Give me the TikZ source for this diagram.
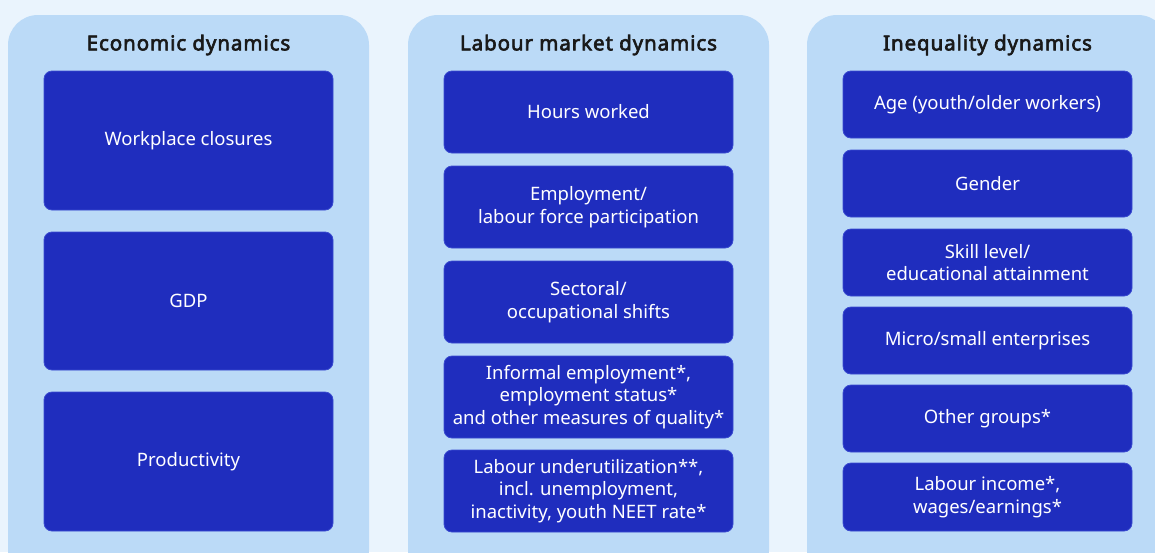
\documentclass[tikz,border=0pt]{standalone}
\usepackage{fontspec}
\setmainfont{Noto Sans}
\newfontfamily\titlefont{Noto Sans}[FakeBold=3,LetterSpace=4.5]
\usetikzlibrary{positioning}

\definecolor{pagebg}{HTML}{EAF4FD}
\definecolor{panelbg}{HTML}{BBDAF7}
\definecolor{boxbg}{HTML}{1F2DBE}
\definecolor{boxline}{HTML}{3A4BD0}

\tikzset{
  panel/.style={fill=panelbg, rounded corners=30pt},
  coltitle/.style={font=\titlefont\fontsize{20.5}{24}\selectfont, text=black!90},
  item/.style={fill=boxbg, draw=boxline, line width=0.8pt, rounded corners=8pt,
    text=white, align=center, minimum width=289pt, inner sep=0pt, outer sep=0pt,
    font=\fontsize{18.5}{22.5}\selectfont},
}

\begin{document}
\begin{tikzpicture}[x=1pt,y=-1pt]
	\useasboundingbox[fill=pagebg] (0,0) rectangle (1155,552);
	\begin{scope}
	  \clip (0,0) rectangle (1155,552);
	  \foreach \px in {8,408,807}
	    \fill[panel] (\px,15) rectangle ++(361,565);
	\end{scope}

	% economic dynamics
	\node[coltitle] (econ_title) at (188.5,45) {Economic dynamics};
	\node[item, minimum height=139pt, anchor=north] (econ_closures) at (188.5,71) {Workplace closures};
	\node[item, minimum height=138pt, below=22pt of econ_closures] (econ_gdp) {GDP};
	\node[item, minimum height=139pt, below=22pt of econ_gdp] (econ_prod) {Productivity};

	% labour market dynamics
	\node[coltitle] (lab_title) at (588.5,45) {Labour market dynamics};
	\node[item, minimum height=82pt, anchor=north] (lab_hours) at (588.5,71) {Hours worked};
	\node[item, minimum height=82pt, below=13pt of lab_hours] (lab_emp) {Employment/\\labour force participation};
	\node[item, minimum height=82pt, below=13pt of lab_emp] (lab_shifts) {Sectoral/\\occupational shifts};
	\node[item, minimum height=82pt, below=13pt of lab_shifts] (lab_informal) {Informal employment*,\\employment status*\\and other measures of quality*};
	\node[item, minimum height=82pt, below=12pt of lab_informal] (lab_under) {Labour underutilization**,\\incl. unemployment,\\inactivity, youth NEET rate*};

	% inequality dynamics
	\node[coltitle] (ineq_title) at (987.5,45) {Inequality dynamics};
	\node[item, minimum height=67pt, anchor=north] (ineq_age) at (987.5,71) {Age (youth/older workers)};
	\node[item, minimum height=67pt, below=12pt of ineq_age] (ineq_gender) {Gender};
	\node[item, minimum height=67pt, below=12pt of ineq_gender] (ineq_skill) {Skill level/\\educational attainment};
	\node[item, minimum height=67pt, below=11pt of ineq_skill] (ineq_micro) {Micro/small enterprises};
	\node[item, minimum height=67pt, below=11pt of ineq_micro] (ineq_other) {Other groups*};
	\node[item, minimum height=68pt, below=11pt of ineq_other] (ineq_income) {Labour income*,\\wages/earnings*};
\end{tikzpicture}
\end{document}
